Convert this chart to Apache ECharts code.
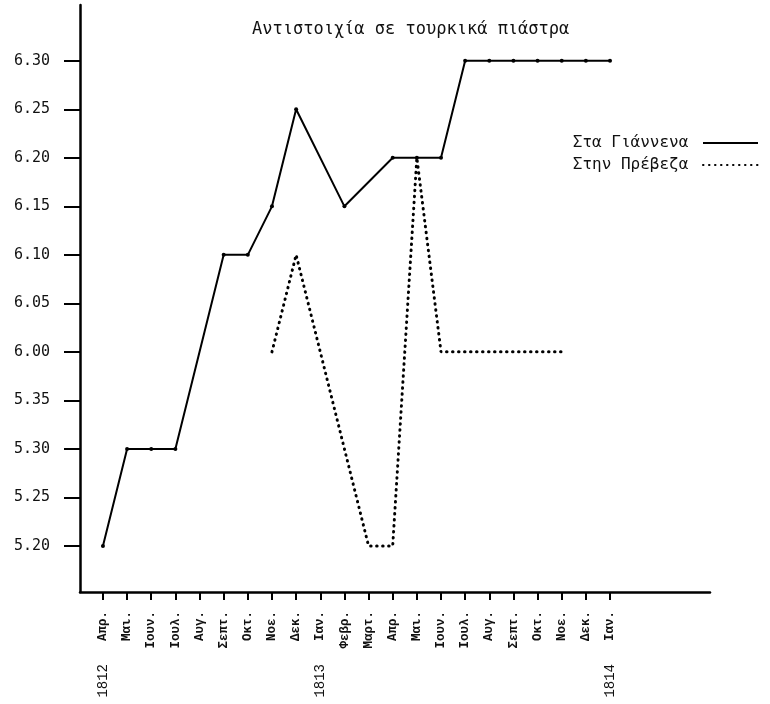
<!DOCTYPE html>
<html>
<head>
<meta charset="utf-8">
<script src="https://cdn.jsdelivr.net/npm/echarts@6/dist/echarts.min.js"></script>
<style>
  html, body { margin: 0; padding: 0; background: #fff; }
  #chart { width: 770px; height: 704px; }
</style>
</head>
<body>
<div id="chart"></div>
<script>
  // μήνες 1812 Απρ. - 1814 Ιαν.
  const months = ['Απρ.', 'Μαι.', 'Ιουν.', 'Ιουλ.', 'Αυγ.', 'Σεπτ.', 'Οκτ.', 'Νοε.', 'Δεκ.',
    'Ιαν.', 'Φεβρ.', 'Μαρτ.', 'Απρ.', 'Μαι.', 'Ιουν.', 'Ιουλ.', 'Αυγ.', 'Σεπτ.', 'Οκτ.', 'Νοε.', 'Δεκ.', 'Ιαν.'];
  const yearAt = [0, 9, 21];
  const yearLabels = ['1812', '1813', '1814'];

  // οι τιμές του άξονα (ισαπέχουσες στο σχέδιο)
  const levels = ['5.20', '5.25', '5.30', '5.35', '6.00', '6.05', '6.10', '6.15', '6.20', '6.25', '6.30'];

  const giannena = ['5.20', '5.30', '5.30', '5.30', null, '6.10', '6.10', '6.15', '6.25', null, '6.15', null,
    '6.20', '6.20', '6.20', '6.30', '6.30', '6.30', '6.30', '6.30', '6.30', '6.30'];
  const preveza = [null, null, null, null, null, null, null, '6.00', '6.10', null, '5.30', '5.20',
    '5.20', '6.20', '6.00', '6.00', '6.00', '6.00', '6.00', '6.00', null, null];

  function toPoints(arr) {
    let pts = [];
    arr.forEach(function (v, i) {
      if (v !== null) pts.push([i, levels.indexOf(v)]);
    });
    return pts;
  }

  let myChart = echarts.init(document.getElementById('chart'));
  let idx = months.map(function (m, i) { return i; });
  let levelIdx = levels.map(function (l, i) { return i; });

  let option = {
    animation: false,
    title: {
      text: 'Αντιστοιχία σε τουρκικά πιάστρα',
      left: 247,
      top: 16,
      textStyle: {
        fontFamily: 'DejaVu Sans Mono',
        fontSize: 17,
        fontWeight: 'normal',
        color: '#111'
      }
    },
    legend: {
      orient: 'vertical',
      right: 6,
      top: 130,
      align: 'right',
      itemWidth: 55,
      itemHeight: 10,
      itemGap: 6,
      itemStyle: { opacity: 0 },
      formatter: function (name) { return name + ' '; },
      textStyle: {
        fontFamily: 'DejaVu Sans Mono',
        fontSize: 16,
        color: '#111'
      },
      data: ['Στα Γιάννενα', 'Στην Πρέβεζα']
    },
    grid: {
      left: 80,
      right: 60,
      top: 5,
      bottom: 112
    },
    xAxis: [
      {
        type: 'value',
        min: -0.95,
        max: 25.14,
        splitLine: { show: false },
        axisLine: { onZero: false, lineStyle: { color: '#000', width: 2.5 } },
        axisTick: { show: true, customValues: idx, length: 8, lineStyle: { color: '#000', width: 2 } },
        axisLabel: {
          customValues: idx,
          rotate: 90,
          margin: 19,
          fontFamily: 'Liberation Mono',
          fontSize: 12.5,
          fontWeight: 'bold',
          color: '#111',
          formatter: function (v) { return months[v]; }
        }
      },
      {
        type: 'value',
        position: 'bottom',
        min: -0.95,
        max: 25.14,
        splitLine: { show: false },
        axisLine: { show: false, onZero: false },
        axisTick: { show: false },
        axisLabel: {
          customValues: yearAt,
          rotate: 90,
          margin: 72,
          fontFamily: 'Liberation Mono',
          fontSize: 14,
          color: '#111',
          formatter: function (v) { return yearLabels[yearAt.indexOf(v)]; }
        }
      }
    ],
    yAxis: {
      type: 'value',
      min: -0.95,
      max: 11.15,
      splitLine: { show: false },
      axisLine: { show: true, onZero: false, lineStyle: { color: '#000', width: 2.5 } },
      axisTick: { show: true, customValues: levelIdx, length: 16, lineStyle: { color: '#000', width: 2 } },
      axisLabel: {
        customValues: levelIdx,
        margin: 30,
        fontFamily: 'DejaVu Sans Mono',
        fontSize: 15,
        color: '#111',
        formatter: function (v) { return levels[v]; }
      }
    },
    series: [
      {
        name: 'Στα Γιάννενα',
        type: 'line',
        data: toPoints(giannena),
        symbol: 'circle',
        symbolSize: 4,
        itemStyle: { color: '#000' },
        lineStyle: { color: '#000', width: 2 }
      },
      {
        name: 'Στην Πρέβεζα',
        type: 'line',
        data: toPoints(preveza),
        symbol: 'none',
        itemStyle: { color: '#000' },
        lineStyle: { color: '#000', width: 3, type: [0.5, 5.5], cap: 'round' }
      }
    ]
  };

  myChart.setOption(option);
</script>
</body>
</html>
